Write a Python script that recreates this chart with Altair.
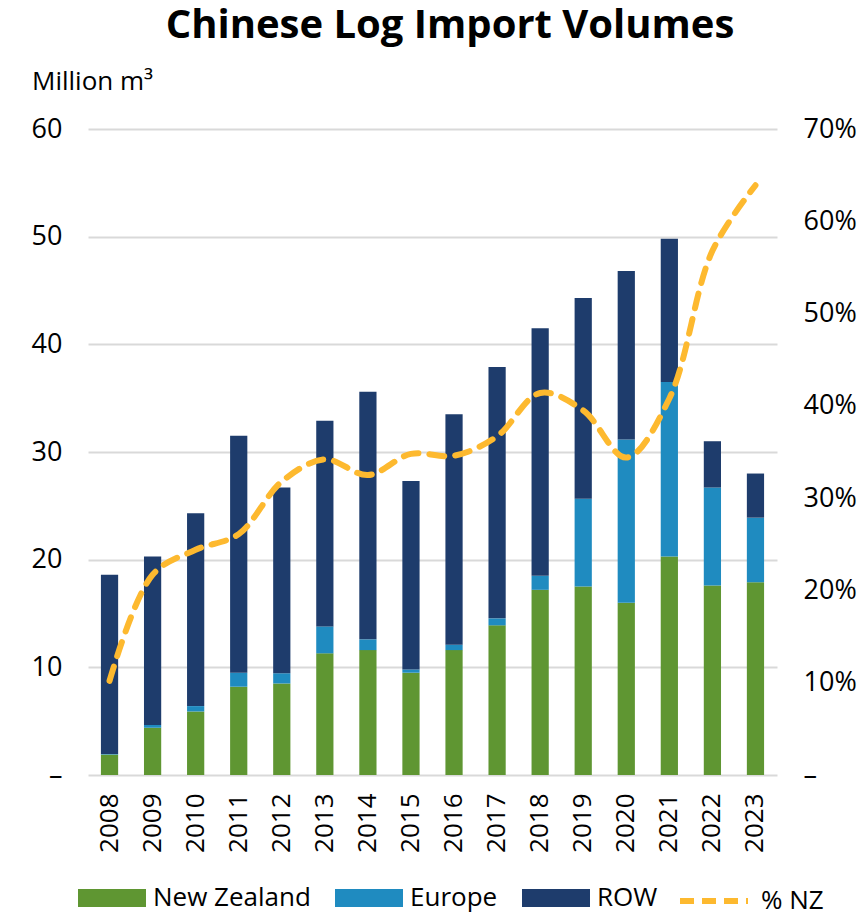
import altair as alt
import pandas as pd

# ---- data ----
years = [str(y) for y in range(2008, 2024)]
nz = [1.9, 4.4, 5.9, 8.2, 8.5, 11.3, 11.6, 9.5, 11.6, 13.9, 17.2, 17.5, 16.0, 20.3, 17.6, 17.9]
europe = [0.05, 0.25, 0.5, 1.3, 0.95, 2.5, 1.0, 0.3, 0.5, 0.65, 1.3, 8.15, 15.15, 16.2, 9.1, 6.0]
row = [16.65, 15.65, 17.9, 22.0, 17.25, 19.1, 23.0, 17.5, 21.4, 23.35, 23.0, 18.65, 15.65, 13.3, 4.3, 4.1]
pct_nz = [10.2, 21.7, 24.4, 26.1, 31.8, 34.2, 32.5, 34.8, 34.6, 36.7, 41.4, 39.5, 34.4, 40.8, 56.8, 63.9]

series = ["New Zealand", "Europe", "ROW"]
series_colors = ["#5F9632", "#1F8BC0", "#1E3C6C"]
line_name = "% NZ"
line_color = "#FDB92F"

left_ticks = [0, 10, 20, 30, 40, 50, 60]
right_ticks = [0, 0.1, 0.2, 0.3, 0.4, 0.5, 0.6, 0.7]

title_text = "Chinese Log Import Volumes"
unit_text = "Million m³"

FONT = "Open Sans"

bars_df = pd.DataFrame({
    "year": years * 3,
    "series": [series[0]] * 16 + [series[1]] * 16 + [series[2]] * 16,
    "value": nz + europe + row,
    "order": [0] * 16 + [1] * 16 + [2] * 16,
})
line_df = pd.DataFrame({"year": years, "pct": [p / 100 for p in pct_nz], "label": [line_name] * 16})

W, H = 689, 646
LEG_Y = 735

x_enc = alt.X(
    "year:N", sort=years, title=None,
    scale=alt.Scale(paddingInner=0.6, paddingOuter=0.3),
    axis=alt.Axis(labelAngle=-90, labelFontSize=26, labelPadding=18, ticks=False,
                  domain=False, labelFont=FONT, labelColor="black", grid=False),
)

bars = alt.Chart(bars_df).mark_bar().encode(
    x=x_enc,
    y=alt.Y(
        "value:Q", stack="zero", title=None,
        scale=alt.Scale(domain=[0, 60], nice=False),
        axis=alt.Axis(values=left_ticks, labelExpr="datum.value == 0 ? '–' : datum.label",
                      labelFontSize=27, labelFont=FONT, labelColor="black", ticks=False,
                      domain=False, labelPadding=26, grid=True, gridColor="#D9D9D9", gridWidth=2),
    ),
    color=alt.Color(
        "series:N", sort=series,
        scale=alt.Scale(domain=series, range=series_colors),
        legend=alt.Legend(orient="none", legendX=-10, legendY=LEG_Y, direction="horizontal",
                          title=None, symbolType="M-1,-0.265H1V0.265H-1Z", symbolSize=4624,
                          symbolStrokeWidth=0, labelFontSize=26, labelFont=FONT,
                          labelColor="black", columnPadding=24, labelOffset=7),
    ),
    order=alt.Order("order:Q"),
)

line = alt.Chart(line_df).mark_line(
    interpolate="catmull-rom", strokeWidth=6, strokeDash=[15, 11], strokeCap="round",
).encode(
    x=x_enc,
    y=alt.Y(
        "pct:Q", title=None,
        scale=alt.Scale(domain=[0, 0.7], nice=False),
        axis=alt.Axis(orient="right", values=right_ticks, format=".0%",
                      labelExpr="datum.value == 0 ? '–' : datum.label",
                      labelFontSize=27, labelFont=FONT, labelColor="black", ticks=False,
                      domain=False, labelPadding=26, grid=False),
    ),
    color=alt.Color(
        "label:N",
        scale=alt.Scale(domain=[line_name], range=[line_color]),
        legend=alt.Legend(orient="none", legendX=589, legendY=LEG_Y, direction="horizontal",
                          title=None, symbolType="stroke", symbolSize=4624,
                          symbolStrokeWidth=6, symbolDash=[14, 8], labelFontSize=26,
                          labelFont=FONT, labelColor="black", labelOffset=10),
    ),
)

title = alt.Chart(pd.DataFrame({"t": [title_text]})).mark_text(
    font=FONT, fontSize=40, fontWeight="bold", color="black", align="center", baseline="alphabetic"
).encode(text="t:N", x=alt.value(362), y=alt.value(-91))

unit = alt.Chart(pd.DataFrame({"t": [unit_text]})).mark_text(
    font=FONT, fontSize=26, color="black", align="left", baseline="alphabetic"
).encode(text="t:N", x=alt.value(-56), y=alt.value(-39))

chart = alt.layer(bars, line, title, unit).resolve_scale(
    y="independent", color="independent"
).properties(
    width=W, height=H,
    autosize=alt.AutoSizeParams(type="none"),
    padding={"left": 88, "top": 129, "right": 87, "bottom": 142},
    background="white",
).configure_view(stroke=None)

chart.save("out.html", embed_options={"renderer": "svg", "actions": False})
